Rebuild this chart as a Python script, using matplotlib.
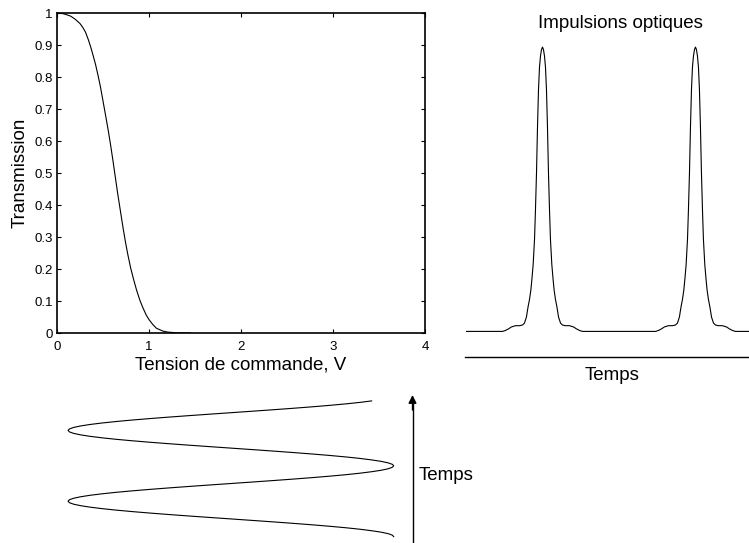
import matplotlib
matplotlib.use("Agg")
import matplotlib.pyplot as plt
import numpy as np
from matplotlib.lines import Line2D

plt.rcParams["font.family"] = ["Liberation Sans", "DejaVu Sans"]

W, H = 749, 543

# transmission curve
volts = [0, 0.05, 0.1, 0.15, 0.2, 0.25, 0.28, 0.31, 0.34, 0.365, 0.39, 0.42,
         0.45, 0.475, 0.50, 0.53, 0.56, 0.585, 0.61, 0.635, 0.66, 0.69, 0.72,
         0.745, 0.77, 0.80, 0.83, 0.865, 0.90, 0.935, 0.97, 1.0, 1.04, 1.08,
         1.15, 1.2, 1.30, 1.45]
trans = [1, 0.999, 0.995, 0.99, 0.98, 0.967, 0.955, 0.94, 0.917, 0.895, 0.87,
         0.838, 0.80, 0.765, 0.725, 0.677, 0.628, 0.583, 0.535, 0.485, 0.435,
         0.38, 0.325, 0.283, 0.245, 0.204, 0.17, 0.134, 0.103, 0.078, 0.056,
         0.042, 0.027, 0.015, 0.006, 0.003, 0.0005, 0]
xticks = [0, 1, 2, 3, 4]
yticks = [0, 0.1, 0.2, 0.3, 0.4, 0.5, 0.6, 0.7, 0.8, 0.9, 1]
yticklabels = ["0", "0.1", "0.2", "0.3", "0.4", "0.5", "0.6", "0.7", "0.8", "0.9", "1"]

# one optical pulse, one half (offset in periods -> height)
pulse_dt = [0, 0.0065, 0.013, 0.0196, 0.026, 0.0327, 0.039, 0.046, 0.052, 0.061,
            0.069, 0.076, 0.085, 0.094, 0.105, 0.118, 0.131, 0.150, 0.176, 0.203,
            0.222, 0.242, 0.261]
pulse_h = [0.893, 0.885, 0.865, 0.83, 0.76, 0.64, 0.50, 0.38, 0.29, 0.21,
           0.165, 0.13, 0.10, 0.078, 0.045, 0.026, 0.02, 0.018, 0.018, 0.014,
           0.008, 0.003, 0]
pulse_centers = [0.5, 1.5]
pulse_tmax = 1.85

# drive voltage over one period, sampled every 1/48 period (time goes up)
drive_period = [3.66, 3.645, 3.60, 3.525, 3.42, 3.294, 3.142, 2.968, 2.775,
                2.567, 2.348, 2.121, 1.89, 1.659, 1.432, 1.213, 1.005, 0.812,
                0.638, 0.486, 0.357, 0.255, 0.180, 0.135, 0.12, 0.135, 0.180,
                0.255, 0.357, 0.486, 0.638, 0.812, 1.005, 1.213, 1.432, 1.659,
                1.89, 2.121, 2.348, 2.567, 2.775, 2.968, 3.142, 3.294, 3.42,
                3.525, 3.60, 3.645]
n_drive = 93  # a bit less than two periods are shown
drive_v = (drive_period * 2)[:n_drive]
drive_t = [k / len(drive_period) for k in range(n_drive)]


def rect(left, top, right, bottom):
    return [left / W, 1 - bottom / H, (right - left) / W, (bottom - top) / H]


fig = plt.figure(figsize=(W / 100, H / 100), dpi=100)

# main transfer curve
ax = fig.add_axes(rect(57, 13, 425, 333))
ax.plot(volts, trans, color="black", lw=0.8)
ax.set_xlim(0, 4)
ax.set_ylim(0, 1)
ax.set_xticks(xticks)
ax.set_yticks(yticks)
ax.set_yticklabels(yticklabels)
ax.tick_params(direction="in", length=3, width=0.8, top=True, right=True,
               labelsize=9.5, pad=3)
ax.tick_params(axis="x", pad=5.5)
for s in ax.spines.values():
    s.set_linewidth(1.2)
ax.set_xlabel("Tension de commande, V", fontsize=13.5, labelpad=3)
ax.set_ylabel("Transmission", fontsize=13.5, labelpad=4)

# optical pulses
t_pulse = [0.0]
h_pulse = [0.0]
for c in pulse_centers:
    for dt, h in zip(pulse_dt[::-1], pulse_h[::-1]):
        t_pulse.append(c - dt)
        h_pulse.append(h)
    for dt, h in zip(pulse_dt[1:], pulse_h[1:]):
        t_pulse.append(c + dt)
        h_pulse.append(h)
t_pulse.append(pulse_tmax)
h_pulse.append(0.0)

axp = fig.add_axes(rect(466, 13, 749, 333))
axp.plot(t_pulse, h_pulse, color="black", lw=0.8)
axp.set_xlim(0, pulse_tmax)
axp.set_ylim(-0.005, 1.0)
axp.axis("off")

fig.add_artist(Line2D([465 / W, 1.0], [1 - 357 / H, 1 - 357 / H],
                      color="black", lw=1.0, transform=fig.transFigure))
fig.text(620 / W, 1 - 23 / H, "Impulsions optiques", fontsize=13.5,
         ha="center", va="center")
fig.text(612 / W, 1 - 375 / H, "Temps", fontsize=13.5, ha="center", va="center")

# drive signal (voltage horizontally, time vertically)
axd = fig.add_axes(rect(57, 395, 425, 543))
axd.plot(drive_v, drive_t, color="black", lw=0.8)
axd.set_xlim(0, 4)
axd.set_ylim(-0.09, 2.0)
axd.axis("off")

fig.add_artist(Line2D([412.5 / W, 412.5 / W], [0, 1 - 404 / H],
                      color="black", lw=1.0, transform=fig.transFigure))
axd.annotate("", xy=(412.5 / W, 1 - 395 / H), xytext=(412.5 / W, 1 - 410 / H),
             xycoords="figure fraction", textcoords="figure fraction",
             arrowprops=dict(arrowstyle="-|>", color="black", lw=1.0,
                             mutation_scale=12, shrinkA=0, shrinkB=0))
fig.text(419 / W, 1 - 476 / H, "Temps", fontsize=13.5, ha="left", va="center")

fig.savefig("out.png", dpi=100)
